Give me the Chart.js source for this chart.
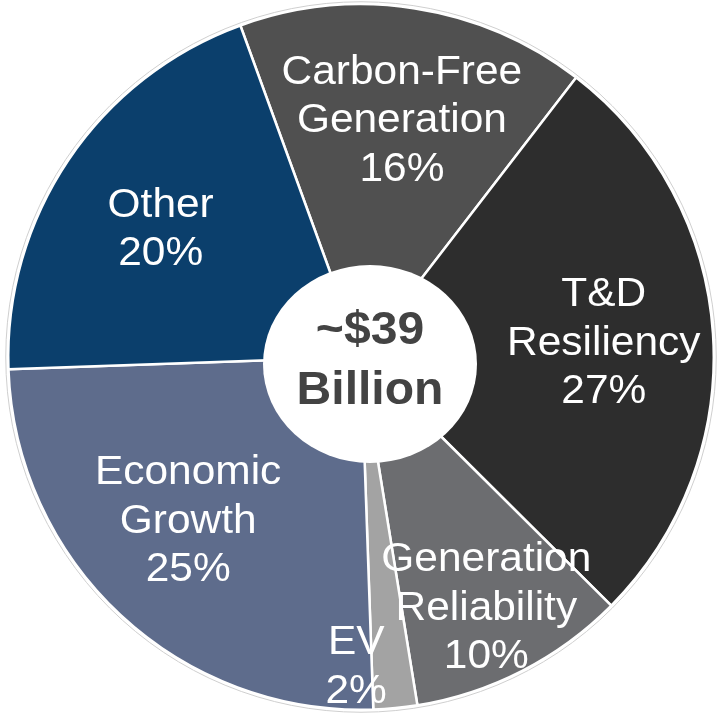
<!DOCTYPE html>
<html>
<head>
<meta charset="utf-8">
<script src="https://cdn.jsdelivr.net/npm/chart.js@4.4.1/dist/chart.umd.min.js"></script>
<style>
  html, body { margin: 0; padding: 0; background: #ffffff; }
  #wrap { width: 718px; height: 714px; position: relative; }
</style>
</head>
<body>
<div id="wrap"><canvas id="myChart"></canvas></div>
<script>
// categories and shares (%)
const categories = [
    ['Carbon-Free', 'Generation'],
    ['T&D', 'Resiliency'],
    ['Generation', 'Reliability'],
    ['EV'],
    ['Economic', 'Growth'],
    ['Other']
];
const shares = [16, 27, 10, 2, 25, 20];
const sliceColors = ['#505050', '#2d2d2d', '#6c6d70', '#a3a3a3', '#5e6c8c', '#0b3f6c'];
const centerLines = ['~$39', 'Billion'];

// label placement: angle nudge (deg) and fraction of outer radius
const labelNudge = [0.9, -0.2, 0.4, 6.5, 4, -0.9];
const labelRadius = [0.688, 0.69, 0.788, 0.87, 0.67, 0.678];

const FONT = '"Liberation Sans", Arial, sans-serif';

function stretchedText(c, t, x, y, sx) {
    c.save();
    c.translate(x, y);
    c.scale(sx, 1);
    c.fillText(t, 0, 0);
    c.restore();
}

// white centre disc (slightly oval, a bit off-centre like the original) + text
const centerDisc = {
    id: 'centerDisc',
    afterDatasetsDraw(chart) {
        const c = chart.ctx;
        const arc = chart.getDatasetMeta(0).data[0];
        const p = arc.getProps(['x', 'y', 'outerRadius'], true);
        const hx = p.x + 9, hy = p.y + 7;
        c.save();
        // thin grey rim round the pie
        c.strokeStyle = '#cfcfcf';
        c.lineWidth = 1;
        c.beginPath();
        c.arc(p.x, p.y, p.outerRadius + 2.5, 0, Math.PI * 2);
        c.stroke();

        c.fillStyle = '#ffffff';
        c.beginPath();
        c.ellipse(hx, hy, 107, 99, 0, 0, Math.PI * 2);
        c.fill();

        c.fillStyle = '#434343';
        c.font = 'bold 46px ' + FONT;
        c.textAlign = 'center';
        c.textBaseline = 'alphabetic';
        stretchedText(c, centerLines[0], hx, hy - 36 + 46 * 0.358, 1.045);
        stretchedText(c, centerLines[1], hx, hy + 24 + 46 * 0.358, 1.045);
        c.restore();
    }
};

// draws the white labels inside each slice
const sliceLabels = {
    id: 'sliceLabels',
    afterDatasetsDraw(chart) {
        const c = chart.ctx;
        const arcs = chart.getDatasetMeta(0).data;
        c.save();
        c.fillStyle = '#ffffff';
        c.font = '41px ' + FONT;
        c.textAlign = 'center';
        c.textBaseline = 'alphabetic';
        const lineH = 48.5;
        arcs.forEach((arc, i) => {
            const p = arc.getProps(['x', 'y', 'startAngle', 'endAngle', 'outerRadius'], true);
            const a = (p.startAngle + p.endAngle) / 2 + labelNudge[i] * Math.PI / 180;
            const r = p.outerRadius * labelRadius[i];
            const cx = p.x + r * Math.cos(a);
            const cy = p.y + r * Math.sin(a);
            const lines = categories[i].concat([shares[i] + '%']);
            const top = cy - (lines.length - 1) * lineH / 2;
            lines.forEach((t, k) => {
                stretchedText(c, t, cx, top + k * lineH + 41 * 0.358, 1.035);
            });
        });
        c.restore();
    }
};

const ctx = document.getElementById('myChart').getContext('2d');
const myChart = new Chart(ctx, {
    type: 'doughnut',
    data: {
        labels: categories.map(l => l.join(' ')),
        datasets: [{
            data: shares,
            backgroundColor: sliceColors,
            borderColor: '#ffffff',
            borderWidth: 2.5
        }]
    },
    options: {
        responsive: true,
        maintainAspectRatio: false,
        animation: false,
        rotation: -20,
        cutout: 0,
        layout: {
            padding: { top: 3, bottom: 3, left: 7, right: 3 }
        },
        plugins: {
            legend: { display: false },
            tooltip: { enabled: false }
        }
    },
    plugins: [centerDisc, sliceLabels]
});
</script>
</body>
</html>
